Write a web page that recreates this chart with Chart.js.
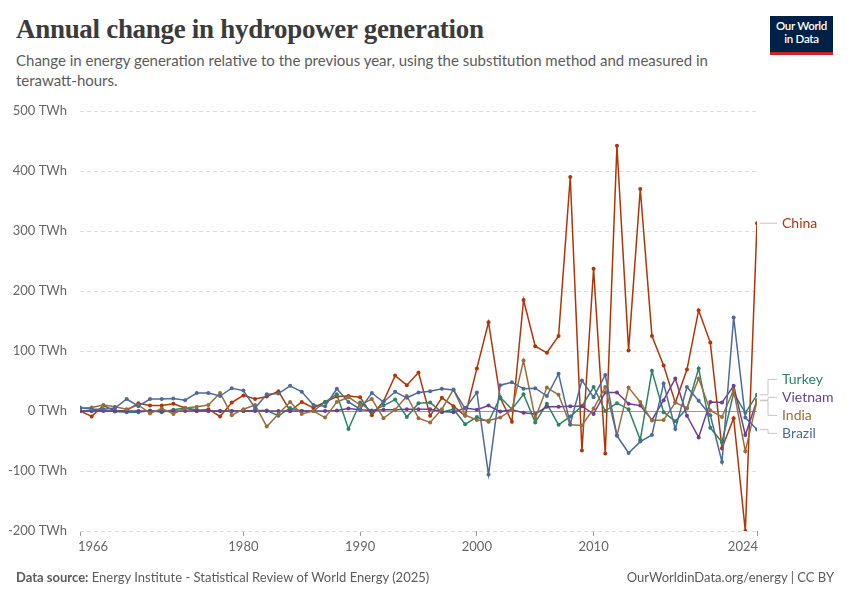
<!DOCTYPE html>
<html><head><meta charset="utf-8">
<script src="https://cdn.jsdelivr.net/npm/chart.js@4.4.1/dist/chart.umd.min.js"></script>
<style>
html,body{margin:0;padding:0;background:#fff}
body{width:850px;height:600px;position:relative;overflow:hidden;font-family:Lato,"Noto Sans",sans-serif}
#title{position:absolute;left:16px;top:14px;font-family:"Liberation Serif",serif;font-size:27px;font-weight:bold;color:#3b3b3b;letter-spacing:-0.3px;white-space:nowrap}
#subtitle{position:absolute;left:16px;top:51px;font-size:15px;line-height:19.5px;color:#5b5b5b}
#logo{position:absolute;left:770px;top:16px;width:63px;height:33px;background:#002147;border-bottom:3px solid #ce261e;color:#fff;font-size:11.5px;line-height:13px;text-align:center;padding-top:3px;box-sizing:content-box;font-weight:600;letter-spacing:-0.3px}
#footer-l{position:absolute;left:16px;top:569px;font-size:13px;color:#5b5b5b}
#footer-l b{color:#5b5b5b;font-weight:700}
#footer-r{position:absolute;right:16px;top:569px;font-size:13px;color:#5b5b5b}
#wrap{position:absolute;left:0;top:0;width:850px;height:600px}
</style></head>
<body>
<div id="title">Annual change in hydropower generation</div>
<div id="subtitle">Change in energy generation relative to the previous year, using the substitution method and measured in<br>terawatt-hours.</div>
<div id="logo">Our World<br>in Data</div>
<div id="wrap"><canvas id="c" width="850" height="600"></canvas></div>
<div id="footer-l"><b>Data source:</b> Energy Institute - Statistical Review of World Energy (2025)</div>
<div id="footer-r">OurWorldinData.org/energy | CC BY</div>
<script>
const years = [1966,1967,1968,1969,1970,1971,1972,1973,1974,1975,1976,1977,1978,1979,1980,1981,1982,1983,1984,1985,1986,1987,1988,1989,1990,1991,1992,1993,1994,1995,1996,1997,1998,1999,2000,2001,2002,2003,2004,2005,2006,2007,2008,2009,2010,2011,2012,2013,2014,2015,2016,2017,2018,2019,2020,2021,2022,2023,2024];
const china = [0,-9,9,0,1,13,9,9,12,5, 0,3,-9,14,26,20,24,33,0,15, 5,15,24,25,23,-7,16,59,43,64, -8,22,8,-8,71,148,22,-18,185,108, 97,125,390,-66,237,-71,442,101,370,125, 76,14,69,168,114,-62,-12,-200,313];
const turkey = [0,0,1,-1,-2,-2,1,-2,2,5, 2,0,0,0,0,1,1,-8,5,0, 0,15,28,-30,14,-1,9,19,-10,13, 14,-2,3,-22,-10,-18,23,3,28,-19, 12,-23,-9,8,40,0,13,3,-48,67, -2,-17,4,71,-28,-52,30,-3,27];
const vietnam = [0,0,0,0,0,0,0,0,0,0, 0,0,0,0,0,0,0,0,0,0, 0,0,1,4,2,1,2,2,3,3, 3,-1,-2,5,2,9,-1,2,-3,-5, 7,7,8,8,-5,31,31,12,9,-15, 18,54,-8,-44,15,14,42,-40,18];
const india = [4,6,10,7,3,10,-4,4,-5,5, 7,10,30,-7,3,10,-26,-5,15,-5, 0,-11,15,23,10,20,-12,2,25,-12, -19,3,36,-7,-15,-16,-11,2,84,-12, 39,27,-23,-24,4,40,-41,39,15,-16, -15,14,5,54,1,-10,35,-67,17];
const brazil = [6,3,3,5,20,8,20,20,21,18, 30,30,25,38,34,5,28,29,42,32, 10,8,37,15,3,30,15,32,22,31, 33,37,35,4,31,-106,43,48,37,38, 25,62,-22,51,23,60,-41,-70,-51,-40, 46,-30,40,17,-7,-85,156,-11,-31];
const xTicks = [1966,1980,1990,2000,2010,2024];
const yTicks = [-200,-100,0,100,200,300,400,500];

const seriesNames = ["China","Turkey","Vietnam","India","Brazil"];
const seriesData = [china,turkey,vietnam,india,brazil];
const seriesColors = ["#b13507","#2c8465","#6d3e91","#9a6e3c","#4c6a9c"];

const datasets = seriesNames.map((n,i)=>({
  label:n,
  data: years.map((y,j)=>({x:y,y:seriesData[i][j]})),
  borderColor: seriesColors[i],
  backgroundColor: seriesColors[i],
  borderWidth:1.5,
  pointRadius:2,
  pointBorderWidth:0,
  tension:0
}));
datasets.reverse();

const gridPlugin = {
  id:'gridPlugin',
  beforeDatasetsDraw(chart){
    const {ctx,chartArea,scales:{y}} = chart;
    ctx.save();
    ctx.lineWidth=1;
    yTicks.forEach(v=>{
      const py = Math.round(y.getPixelForValue(v))+0.5;
      ctx.beginPath();
      if(v===0){ctx.setLineDash([]);ctx.strokeStyle='#9a9a9a';}
      else{ctx.setLineDash([4,3]);ctx.strokeStyle='#dddddd';}
      ctx.moveTo(chartArea.left,py);ctx.lineTo(chartArea.right,py);ctx.stroke();
    });
    ctx.restore();
  },
  afterDraw(chart){
    const {ctx,chartArea,scales:{x}} = chart;
    ctx.save();
    ctx.fillStyle='#666';ctx.font='13px Lato';ctx.textBaseline='top';
    xTicks.forEach((v,i)=>{
      const px = x.getPixelForValue(v);
      ctx.textAlign = i===0?'left':(i===xTicks.length-1?'right':'center');
      ctx.fillText(String(v), i===0?px-2:(i===xTicks.length-1?px+1:px), chartArea.bottom+9);
    });
    ctx.restore();
  }
};

const endLabels = {
  id:'endLabels',
  afterDatasetsDraw(chart){
    const {ctx,chartArea,scales:{y}} = chart;
    const items = seriesNames.map((n,i)=>({name:n,color:seriesColors[i],yd:y.getPixelForValue(seriesData[i][seriesData[i].length-1])}));
    items.sort((a,b)=>a.yd-b.yd);
    const gap=18;
    let clusters = items.map(it=>({items:[it],center:it.yd}));
    let changed=true;
    while(changed){
      changed=false;
      for(let k=0;k<clusters.length-1;k++){
        const a=clusters[k],b=clusters[k+1];
        const aBottom=a.center+(a.items.length-1)*gap/2;
        const bTop=b.center-(b.items.length-1)*gap/2;
        if(bTop-aBottom<gap){
          const its=a.items.concat(b.items);
          const c=its.reduce((s,t)=>s+t.yd,0)/its.length;
          clusters.splice(k,2,{items:its,center:c});
          changed=true;break;
        }
      }
    }
    clusters.forEach(cl=>{
      cl.items.forEach((it,k)=>{ it.yl = cl.center+(k-(cl.items.length-1)/2)*gap; });
    });
    const x0=chartArea.right+3, x1=chartArea.right+11, x2=chartArea.right+20, xt=chartArea.right+25;
    ctx.save();
    ctx.strokeStyle='#c4c4c4';ctx.lineWidth=1;
    items.forEach(it=>{
      ctx.beginPath();
      ctx.moveTo(x0,it.yd);ctx.lineTo(x1,it.yd);ctx.lineTo(x1,it.yl);ctx.lineTo(x2,it.yl);
      ctx.stroke();
      ctx.fillStyle=it.color;
      ctx.font='14px Lato';
      ctx.textBaseline='middle';ctx.textAlign='left';
      ctx.fillText(it.name,xt,it.yl);
    });
    ctx.restore();
  }
};

new Chart(document.getElementById('c'),{
  type:'line',
  data:{datasets},
  options:{
    responsive:false,
    animation:false,
    events:[],
    layout:{padding:{left:0,right:93,top:111,bottom:45}},
    plugins:{legend:{display:false},tooltip:{enabled:false}},
    scales:{
      x:{
        type:'linear',min:1966,max:2024,
        afterBuildTicks(s){ s.ticks = xTicks.map(v=>({value:v})); },
        afterFit(s){ s.height = 24; },
        ticks:{display:false},
        grid:{drawOnChartArea:false,drawTicks:true,tickLength:5,color:'#999'},
        border:{display:false}
      },
      y:{
        min:-200,max:500,
        afterBuildTicks(s){ s.ticks = yTicks.map(v=>({value:v})); },
        afterFit(s){ s.width = 80; },
        ticks:{color:'#666',font:{family:'Lato',size:13},padding:5,callback:v=>v+' TWh'},
        grid:{display:false},
        border:{display:false}
      }
    }
  },
  plugins:[gridPlugin,endLabels]
});
</script>
</body></html>
